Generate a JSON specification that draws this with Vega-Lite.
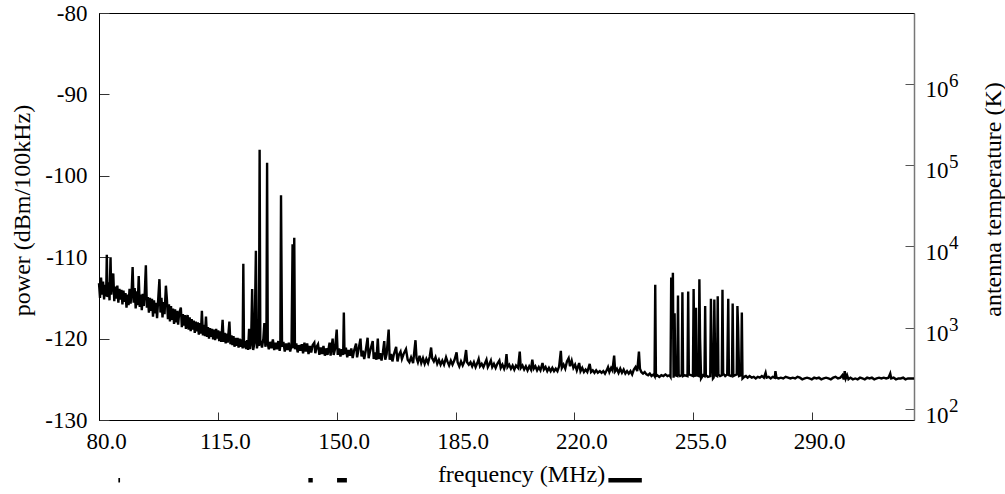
{
"$schema":"https://vega.github.io/schema/vega-lite/v6.json",
"width":815,"height":407,
"autosize":{"type":"none"},
"padding":{"left":99,"top":13,"right":91,"bottom":74},
"background":"#ffffff",
"config":{"view":{"stroke":"#000","strokeWidth":1},"font":"Liberation Serif",
"axis":{"grid":false,"labelFont":"Liberation Serif","titleFont":"Liberation Serif","labelColor":"#000","titleColor":"#000","labelFontSize":23,"titleFontSize":24,"titleFontWeight":"normal","domainColor":"#000","tickColor":"#333","labelFlush":false}},
"layer":[
{"layer":[
{"data":{"values":[
{"f":80.0,"p":-113.2},{"f":80.3,"p":-115.0},{"f":80.6,"p":-112.5},{"f":80.9,"p":-114.6},{"f":81.2,"p":-113.0},{"f":81.5,"p":-115.2},{"f":81.8,"p":-113.4},{"f":82.1,"p":-114.8},{"f":82.3,"p":-109.7},{"f":82.5,"p":-114.9},{"f":82.8,"p":-113.1},{"f":83.1,"p":-115.3},{"f":83.4,"p":-110.0},{"f":83.6,"p":-114.6},{"f":83.9,"p":-113.2},{"f":84.2,"p":-112.0},{"f":84.5,"p":-115.4},{"f":84.8,"p":-113.6},{"f":85.1,"p":-115.1},{"f":85.4,"p":-113.5},{"f":85.7,"p":-115.6},{"f":86.0,"p":-113.9},{"f":86.3,"p":-115.2},{"f":86.6,"p":-114.0},{"f":86.9,"p":-115.8},{"f":87.2,"p":-114.1},{"f":87.5,"p":-115.5},{"f":87.8,"p":-114.4},{"f":88.1,"p":-116.2},{"f":88.4,"p":-114.6},{"f":88.7,"p":-115.9},{"f":89.0,"p":-113.9},{"f":89.3,"p":-115.7},{"f":89.6,"p":-114.3},{"f":89.9,"p":-111.2},{"f":90.2,"p":-115.6},{"f":90.5,"p":-113.8},{"f":90.8,"p":-116.3},{"f":91.1,"p":-114.2},{"f":91.4,"p":-115.9},{"f":91.7,"p":-112.3},{"f":92.0,"p":-116.1},{"f":92.3,"p":-114.6},{"f":92.6,"p":-116.5},{"f":92.9,"p":-114.5},{"f":93.2,"p":-116.0},{"f":93.5,"p":-114.2},{"f":93.8,"p":-111.0},{"f":94.1,"p":-116.2},{"f":94.4,"p":-114.9},{"f":94.7,"p":-116.8},{"f":95.0,"p":-115.0},{"f":95.3,"p":-116.6},{"f":95.6,"p":-115.1},{"f":95.9,"p":-117.3},{"f":96.2,"p":-115.3},{"f":96.5,"p":-116.9},{"f":96.8,"p":-115.6},{"f":97.1,"p":-117.5},{"f":97.4,"p":-115.4},{"f":97.8,"p":-112.7},{"f":98.1,"p":-116.8},{"f":98.4,"p":-115.0},{"f":98.7,"p":-117.4},{"f":99.0,"p":-115.5},{"f":99.3,"p":-117.0},{"f":99.7,"p":-113.5},{"f":100.0,"p":-115.2},{"f":100.3,"p":-117.6},{"f":100.6,"p":-115.8},{"f":100.9,"p":-117.9},{"f":101.2,"p":-116.0},{"f":101.5,"p":-117.7},{"f":101.8,"p":-116.3},{"f":102.1,"p":-118.2},{"f":102.4,"p":-116.4},{"f":102.7,"p":-118.0},{"f":103.0,"p":-116.6},{"f":103.3,"p":-118.3},{"f":103.6,"p":-116.9},{"f":104.1,"p":-116.2},{"f":104.4,"p":-118.6},{"f":104.7,"p":-117.0},{"f":105.0,"p":-118.4},{"f":105.3,"p":-117.1},{"f":105.6,"p":-118.8},{"f":106.1,"p":-117.1},{"f":106.4,"p":-118.9},{"f":106.7,"p":-117.4},{"f":107.0,"p":-119.1},{"f":107.3,"p":-117.6},{"f":107.6,"p":-118.9},{"f":107.9,"p":-117.8},{"f":108.2,"p":-119.3},{"f":108.5,"p":-117.9},{"f":108.8,"p":-119.1},{"f":109.1,"p":-118.0},{"f":109.4,"p":-119.5},{"f":109.7,"p":-118.1},{"f":110.0,"p":-119.4},{"f":110.3,"p":-116.6},{"f":110.6,"p":-119.6},{"f":110.9,"p":-118.3},{"f":111.2,"p":-119.7},{"f":111.5,"p":-117.3},{"f":111.8,"p":-119.8},{"f":112.1,"p":-118.6},{"f":112.4,"p":-120.0},{"f":112.7,"p":-118.7},{"f":113.0,"p":-119.8},{"f":113.3,"p":-118.8},{"f":113.6,"p":-120.1},{"f":113.9,"p":-118.9},{"f":114.2,"p":-120.2},{"f":114.5,"p":-118.8},{"f":114.8,"p":-120.0},{"f":115.1,"p":-119.0},{"f":115.4,"p":-120.3},{"f":115.7,"p":-119.1},{"f":116.0,"p":-120.4},{"f":116.4,"p":-117.7},{"f":116.7,"p":-120.4},{"f":117.0,"p":-119.3},{"f":117.3,"p":-120.6},{"f":117.6,"p":-119.4},{"f":117.9,"p":-120.5},{"f":118.4,"p":-117.9},{"f":118.7,"p":-120.7},{"f":119.0,"p":-119.6},{"f":119.3,"p":-120.8},{"f":119.6,"p":-119.7},{"f":119.9,"p":-121.0},{"f":120.2,"p":-119.9},{"f":120.5,"p":-120.9},{"f":120.8,"p":-119.9},{"f":121.1,"p":-121.1},{"f":121.4,"p":-120.0},{"f":121.7,"p":-121.0},{"f":122.0,"p":-120.1},{"f":122.3,"p":-121.2},{"f":122.5,"p":-110.8},{"f":122.7,"p":-121.1},{"f":123.0,"p":-120.3},{"f":123.3,"p":-121.3},{"f":123.6,"p":-120.2},{"f":123.9,"p":-121.4},{"f":124.2,"p":-118.8},{"f":124.5,"p":-121.3},{"f":124.8,"p":-120.4},{"f":125.1,"p":-113.9},{"f":125.4,"p":-121.4},{"f":125.8,"p":-120.5},{"f":126.2,"p":-109.2},{"f":126.5,"p":-121.2},{"f":126.9,"p":-120.3},{"f":127.1,"p":-120.9},{"f":127.3,"p":-96.8},{"f":127.5,"p":-120.2},{"f":128.0,"p":-121.1},{"f":128.4,"p":-120.0},{"f":128.7,"p":-118.1},{"f":129.0,"p":-121.0},{"f":129.3,"p":-120.2},{"f":129.5,"p":-98.4},{"f":129.7,"p":-120.6},{"f":130.0,"p":-121.3},{"f":130.4,"p":-120.4},{"f":130.8,"p":-121.2},{"f":131.2,"p":-120.1},{"f":131.6,"p":-121.4},{"f":132.0,"p":-120.5},{"f":132.4,"p":-121.3},{"f":132.8,"p":-120.3},{"f":133.2,"p":-121.5},{"f":133.4,"p":-120.9},{"f":133.6,"p":-102.4},{"f":133.9,"p":-121.0},{"f":134.3,"p":-120.4},{"f":134.7,"p":-121.6},{"f":135.1,"p":-120.6},{"f":135.5,"p":-121.4},{"f":135.9,"p":-120.5},{"f":136.3,"p":-121.6},{"f":136.7,"p":-120.8},{"f":137.0,"p":-108.4},{"f":137.2,"p":-121.2},{"f":137.5,"p":-107.6},{"f":137.7,"p":-121.3},{"f":138.1,"p":-120.6},{"f":138.5,"p":-121.7},{"f":138.9,"p":-120.8},{"f":139.3,"p":-121.5},{"f":139.7,"p":-120.7},{"f":140.1,"p":-121.8},{"f":140.5,"p":-120.5},{"f":140.9,"p":-121.6},{"f":141.3,"p":-120.6},{"f":141.7,"p":-121.9},{"f":142.1,"p":-120.9},{"f":142.5,"p":-121.7},{"f":142.9,"p":-120.8},{"f":143.4,"p":-120.5},{"f":143.7,"p":-121.8},{"f":144.1,"p":-121.0},{"f":144.5,"p":-120.7},{"f":144.9,"p":-122.0},{"f":145.3,"p":-121.1},{"f":145.7,"p":-121.9},{"f":146.1,"p":-120.9},{"f":146.5,"p":-122.1},{"f":146.9,"p":-121.2},{"f":147.3,"p":-122.0},{"f":147.9,"p":-120.5},{"f":148.2,"p":-122.1},{"f":148.8,"p":-120.0},{"f":149.1,"p":-122.0},{"f":149.5,"p":-121.3},{"f":150.0,"p":-118.9},{"f":150.3,"p":-122.0},{"f":150.7,"p":-121.2},{"f":151.1,"p":-122.2},{"f":151.5,"p":-121.3},{"f":151.9,"p":-122.0},{"f":152.1,"p":-116.8},{"f":152.3,"p":-121.9},{"f":152.7,"p":-121.1},{"f":153.1,"p":-122.3},{"f":153.5,"p":-121.4},{"f":153.9,"p":-122.1},{"f":154.3,"p":-121.2},{"f":154.7,"p":-122.4},{"f":155.1,"p":-121.5},{"f":155.7,"p":-120.6},{"f":156.0,"p":-122.3},{"f":156.4,"p":-121.4},{"f":157.0,"p":-120.0},{"f":157.3,"p":-122.2},{"f":157.7,"p":-121.5},{"f":158.1,"p":-122.5},{"f":158.5,"p":-121.6},{"f":159.1,"p":-119.9},{"f":159.4,"p":-122.4},{"f":159.8,"p":-121.6},{"f":160.6,"p":-120.3},{"f":160.9,"p":-122.5},{"f":161.3,"p":-121.7},{"f":161.7,"p":-122.6},{"f":162.1,"p":-120.0},{"f":162.4,"p":-122.5},{"f":162.8,"p":-121.8},{"f":163.2,"p":-122.7},{"f":163.6,"p":-121.7},{"f":164.0,"p":-120.3},{"f":164.3,"p":-122.6},{"f":164.7,"p":-121.9},{"f":165.3,"p":-118.9},{"f":165.6,"p":-122.6},{"f":166.0,"p":-121.9},{"f":166.4,"p":-122.8},{"f":166.8,"p":-122.0},{"f":167.5,"p":-121.0},{"f":167.9,"p":-122.8},{"f":168.3,"p":-122.0},{"f":168.8,"p":-121.6},{"f":169.2,"p":-122.5},{"f":169.7,"p":-121.9},{"f":170.4,"p":-121.3},{"f":170.9,"p":-122.6},{"f":171.4,"p":-122.9},{"f":171.9,"p":-122.3},{"f":172.5,"p":-123.0},{"f":173.2,"p":-120.2},{"f":173.5,"p":-122.4},{"f":173.9,"p":-122.9},{"f":174.4,"p":-122.1},{"f":174.9,"p":-123.0},{"f":175.4,"p":-122.4},{"f":175.9,"p":-123.1},{"f":176.4,"p":-122.5},{"f":176.9,"p":-123.0},{"f":177.4,"p":-122.2},{"f":177.8,"p":-121.1},{"f":178.1,"p":-122.4},{"f":178.6,"p":-122.8},{"f":179.1,"p":-122.3},{"f":179.6,"p":-123.1},{"f":180.1,"p":-122.6},{"f":180.6,"p":-123.2},{"f":181.1,"p":-122.7},{"f":181.6,"p":-123.2},{"f":182.2,"p":-122.3},{"f":182.6,"p":-122.8},{"f":183.1,"p":-123.3},{"f":183.6,"p":-122.7},{"f":184.1,"p":-123.2},{"f":184.7,"p":-122.6},{"f":185.3,"p":-121.7},{"f":185.6,"p":-122.9},{"f":186.1,"p":-123.4},{"f":186.6,"p":-122.8},{"f":187.1,"p":-123.3},{"f":187.6,"p":-122.8},{"f":188.1,"p":-121.4},{"f":188.4,"p":-122.9},{"f":188.9,"p":-123.2},{"f":189.4,"p":-122.9},{"f":189.9,"p":-123.4},{"f":190.4,"p":-122.9},{"f":190.9,"p":-123.5},{"f":191.4,"p":-123.0},{"f":191.8,"p":-122.5},{"f":192.2,"p":-123.4},{"f":192.7,"p":-123.1},{"f":193.2,"p":-123.5},{"f":193.7,"p":-123.0},{"f":194.1,"p":-122.6},{"f":194.5,"p":-123.5},{"f":195.0,"p":-123.1},{"f":195.4,"p":-122.7},{"f":195.8,"p":-123.5},{"f":196.3,"p":-123.1},{"f":196.8,"p":-123.6},{"f":197.3,"p":-123.1},{"f":197.9,"p":-122.7},{"f":198.3,"p":-123.6},{"f":198.8,"p":-123.2},{"f":199.3,"p":-123.7},{"f":199.7,"p":-123.2},{"f":200.0,"p":-121.9},{"f":200.3,"p":-123.5},{"f":200.8,"p":-123.2},{"f":201.3,"p":-123.7},{"f":201.8,"p":-123.3},{"f":202.3,"p":-123.8},{"f":202.8,"p":-123.3},{"f":203.4,"p":-123.6},{"f":203.9,"p":-121.6},{"f":204.2,"p":-123.6},{"f":204.7,"p":-123.3},{"f":205.2,"p":-123.8},{"f":205.7,"p":-123.4},{"f":206.2,"p":-123.9},{"f":206.7,"p":-123.4},{"f":207.2,"p":-123.8},{"f":207.6,"p":-122.6},{"f":208.0,"p":-123.7},{"f":208.5,"p":-123.4},{"f":209.0,"p":-123.9},{"f":209.5,"p":-123.5},{"f":210.0,"p":-123.9},{"f":210.6,"p":-123.0},{"f":211.0,"p":-123.8},{"f":211.5,"p":-123.5},{"f":212.0,"p":-124.0},{"f":212.5,"p":-123.6},{"f":213.0,"p":-124.0},{"f":213.5,"p":-123.6},{"f":214.0,"p":-124.0},{"f":214.5,"p":-123.7},{"f":215.0,"p":-124.0},{"f":215.5,"p":-123.4},{"f":216.0,"p":-121.5},{"f":216.3,"p":-123.6},{"f":216.8,"p":-123.2},{"f":217.3,"p":-123.7},{"f":217.8,"p":-122.8},{"f":218.3,"p":-122.4},{"f":218.7,"p":-123.4},{"f":219.2,"p":-122.7},{"f":219.7,"p":-123.6},{"f":220.2,"p":-123.2},{"f":220.7,"p":-123.9},{"f":221.4,"p":-123.0},{"f":221.8,"p":-124.0},{"f":222.3,"p":-123.6},{"f":222.8,"p":-124.1},{"f":223.3,"p":-123.8},{"f":223.8,"p":-124.1},{"f":224.5,"p":-123.1},{"f":224.9,"p":-124.1},{"f":225.4,"p":-123.9},{"f":225.9,"p":-124.2},{"f":226.4,"p":-123.9},{"f":226.9,"p":-124.2},{"f":227.5,"p":-124.0},{"f":228.0,"p":-124.2},{"f":228.5,"p":-124.0},{"f":229.0,"p":-124.3},{"f":229.5,"p":-123.9},{"f":229.9,"p":-123.5},{"f":230.3,"p":-124.1},{"f":230.8,"p":-123.6},{"f":231.2,"p":-123.9},{"f":231.7,"p":-122.1},{"f":232.0,"p":-124.0},{"f":232.5,"p":-123.7},{"f":233.0,"p":-124.2},{"f":233.5,"p":-123.7},{"f":234.0,"p":-124.2},{"f":234.5,"p":-123.8},{"f":235.0,"p":-124.3},{"f":235.5,"p":-124.0},{"f":236.0,"p":-124.3},{"f":236.5,"p":-124.0},{"f":237.0,"p":-124.4},{"f":237.5,"p":-123.8},{"f":238.0,"p":-123.5},{"f":238.5,"p":-124.0},{"f":239.0,"p":-121.6},{"f":239.3,"p":-123.7},{"f":239.7,"p":-124.1},{"f":240.2,"p":-124.3},{"f":240.7,"p":-124.1},{"f":241.2,"p":-124.4},{"f":241.7,"p":-124.5},{"f":242.2,"p":-124.3},{"f":242.7,"p":-124.6},{"f":243.3,"p":-124.4},{"f":243.6,"p":-124.6},{"f":243.8,"p":-113.4},{"f":244.0,"p":-124.6},{"f":244.4,"p":-124.5},{"f":245.0,"p":-124.7},{"f":245.6,"p":-124.5},{"f":246.2,"p":-124.6},{"f":246.8,"p":-124.4},{"f":247.4,"p":-124.6},{"f":248.0,"p":-124.5},{"f":248.3,"p":-124.7},{"f":248.5,"p":-112.5},{"f":248.7,"p":-118.0},{"f":249.0,"p":-111.9},{"f":249.2,"p":-124.8},{"f":249.5,"p":-116.9},{"f":249.7,"p":-124.5},{"f":250.3,"p":-124.6},{"f":250.5,"p":-114.7},{"f":250.7,"p":-124.4},{"f":251.1,"p":-124.6},{"f":251.6,"p":-124.5},{"f":251.8,"p":-114.3},{"f":252.0,"p":-124.6},{"f":252.5,"p":-124.5},{"f":253.3,"p":-124.6},{"f":253.5,"p":-114.2},{"f":253.7,"p":-124.4},{"f":254.3,"p":-124.5},{"f":254.9,"p":-124.6},{"f":255.1,"p":-113.9},{"f":255.3,"p":-121.0},{"f":255.6,"p":-124.7},{"f":255.8,"p":-116.2},{"f":256.0,"p":-124.5},{"f":256.6,"p":-124.6},{"f":256.8,"p":-112.7},{"f":257.0,"p":-120.0},{"f":257.3,"p":-124.9},{"f":257.9,"p":-124.5},{"f":258.3,"p":-124.6},{"f":258.5,"p":-116.0},{"f":258.7,"p":-124.5},{"f":259.3,"p":-124.7},{"f":260.0,"p":-124.6},{"f":260.2,"p":-115.1},{"f":260.4,"p":-121.2},{"f":260.8,"p":-124.9},{"f":261.0,"p":-124.8},{"f":261.2,"p":-115.2},{"f":261.5,"p":-124.5},{"f":262.0,"p":-124.6},{"f":262.2,"p":-114.8},{"f":262.4,"p":-124.4},{"f":262.9,"p":-124.6},{"f":263.4,"p":-124.5},{"f":263.6,"p":-114.0},{"f":263.8,"p":-124.3},{"f":264.4,"p":-124.6},{"f":265.0,"p":-124.4},{"f":265.3,"p":-115.1},{"f":265.5,"p":-124.5},{"f":266.1,"p":-124.6},{"f":266.4,"p":-124.4},{"f":266.6,"p":-115.7},{"f":266.8,"p":-124.6},{"f":267.3,"p":-124.5},{"f":267.8,"p":-124.4},{"f":268.0,"p":-116.0},{"f":268.2,"p":-118.5},{"f":268.5,"p":-124.6},{"f":269.1,"p":-124.5},{"f":269.3,"p":-116.8},{"f":269.5,"p":-124.9},{"f":270.0,"p":-124.7},{"f":270.5,"p":-124.6},{"f":271.0,"p":-124.8},{"f":271.6,"p":-124.6},{"f":272.2,"p":-124.8},{"f":272.8,"p":-124.7},{"f":273.4,"p":-124.9},{"f":274.0,"p":-124.7},{"f":274.6,"p":-124.8},{"f":275.2,"p":-124.6},{"f":275.8,"p":-124.8},{"f":276.3,"p":-124.2},{"f":276.6,"p":-124.8},{"f":277.2,"p":-124.7},{"f":277.8,"p":-124.9},{"f":278.4,"p":-124.7},{"f":279.0,"p":-124.8},{"f":279.2,"p":-124.0},{"f":279.5,"p":-124.8},{"f":280.1,"p":-124.9},{"f":280.8,"p":-124.8},{"f":281.5,"p":-124.9},{"f":282.2,"p":-124.7},{"f":282.9,"p":-124.8},{"f":283.6,"p":-124.9},{"f":284.3,"p":-124.8},{"f":285.0,"p":-124.9},{"f":285.7,"p":-124.7},{"f":286.4,"p":-124.8},{"f":287.1,"p":-125.0},{"f":287.8,"p":-124.9},{"f":288.5,"p":-124.8},{"f":289.2,"p":-124.9},{"f":289.9,"p":-125.0},{"f":290.6,"p":-124.8},{"f":291.3,"p":-124.9},{"f":292.0,"p":-124.8},{"f":292.7,"p":-125.0},{"f":293.4,"p":-124.9},{"f":294.1,"p":-124.8},{"f":294.8,"p":-124.9},{"f":295.5,"p":-125.0},{"f":296.2,"p":-124.8},{"f":296.9,"p":-124.7},{"f":297.6,"p":-124.9},{"f":298.3,"p":-124.8},{"f":298.9,"p":-124.5},{"f":299.3,"p":-125.0},{"f":299.6,"p":-124.0},{"f":299.9,"p":-124.9},{"f":300.3,"p":-124.5},{"f":300.7,"p":-125.0},{"f":301.3,"p":-124.8},{"f":302.0,"p":-125.0},{"f":302.7,"p":-124.9},{"f":303.4,"p":-125.0},{"f":304.1,"p":-124.8},{"f":304.8,"p":-124.9},{"f":305.5,"p":-125.0},{"f":306.2,"p":-124.8},{"f":306.9,"p":-124.9},{"f":307.6,"p":-124.8},{"f":308.3,"p":-125.0},{"f":309.0,"p":-124.9},{"f":309.7,"p":-124.8},{"f":310.4,"p":-124.9},{"f":311.1,"p":-124.8},{"f":311.8,"p":-124.9},{"f":312.5,"p":-124.8},{"f":313.0,"p":-124.3},{"f":313.3,"p":-124.9},{"f":314.0,"p":-124.8},{"f":314.7,"p":-125.0},{"f":315.4,"p":-124.9},{"f":316.1,"p":-124.9},{"f":316.8,"p":-124.8},{"f":317.5,"p":-125.0},{"f":318.2,"p":-124.9},{"f":318.9,"p":-124.9},{"f":320.0,"p":-124.9}
]},
"mark":{"type":"line","color":"#000","strokeWidth":2.4,"interpolate":"linear"},
"encoding":{
"x":{"field":"f","type":"quantitative","title":"frequency (MHz)","scale":{"domain":[80,320],"nice":false,"zero":false},
"axis":{"title":"frequency (MHz)","values":[80,115,150,185,220,255,290],"format":".1f","labelFont":"Liberation Serif","titleFont":"Liberation Serif","tickSize":-8,"labelPadding":18,"labelOffset":7,"titleX":422,"titleY":61,"titleBaseline":"alphabetic","tickColor":"#333","domainColor":"#000"}},
"y":{"field":"p","type":"quantitative","title":"power (dBm/100kHz)","scale":{"domain":[-130,-80],"nice":false,"zero":false},
"axis":{"title":"power (dBm/100kHz)","values":[-130,-120,-110,-100,-90,-80],"labelExpr":"'' + datum.value","labelFont":"Liberation Serif","titleFont":"Liberation Serif","tickSize":-10,"labelPadding":22,"titleAngle":270,"titleX":-77,"titleY":197,"titleBaseline":"middle","titleAlign":"center"}}
}},
{"data":{"values":[
{"f":85.7,"f2":86.2,"p":-137.4},{"f":141.65,"f2":142.95,"p":-137.4},{"f":150.1,"f2":153.0,"p":-137.4},{"f":230.0,"f2":239.85,"p":-137.4}
]},
"mark":{"type":"rule","color":"#000","strokeWidth":4.5},
"encoding":{
"x":{"field":"f","type":"quantitative","title":"frequency (MHz)"},
"x2":{"field":"f2"},
"y":{"field":"p","type":"quantitative","title":"power (dBm/100kHz)"}
}}
]},
{"data":{"values":[
{"T":100,"e":"2"},{"T":1000,"e":"3"},{"T":10000,"e":"4"},{"T":100000,"e":"5"},{"T":1000000,"e":"6"}
]},
"mark":{"type":"text","align":"left","baseline":"alphabetic","dx":35,"dy":3,"fontSize":19,"font":"Liberation Serif","color":"#000"},
"encoding":{
"x":{"datum":320,"type":"quantitative","title":"frequency (MHz)"},
"y":{"field":"T","type":"quantitative","scale":{"type":"log","domain":[73.5,7350000],"nice":false},
"axis":{"orient":"right","title":"antenna temperature (K)","values":[100,1000,10000,100000,1000000],"labelExpr":"'10'","labelFont":"Liberation Serif","titleFont":"Liberation Serif","tickSize":-9,"labelPadding":20,"labelOffset":6,"domainColor":"#777","domainWidth":1.5,"tickColor":"#555","titleAngle":270,"titleX":79,"titleY":186,"titleBaseline":"middle","titleAlign":"center"}},
"text":{"field":"e"}
}}
],
"resolve":{"scale":{"y":"independent"}}
}
